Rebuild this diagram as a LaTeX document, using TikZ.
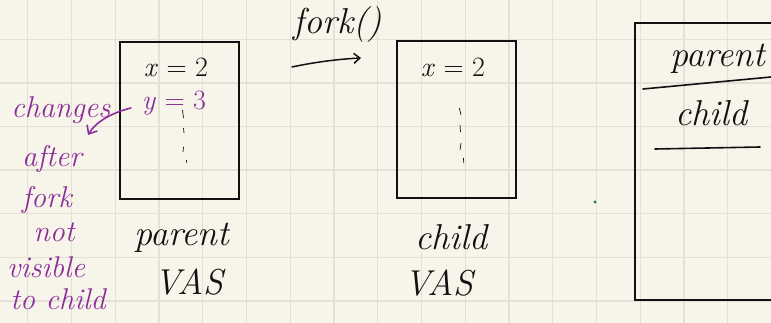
\documentclass[tikz,border=0pt]{standalone}
\usetikzlibrary{arrows.meta}
\definecolor{paper}{HTML}{F7F5EA}
\definecolor{gridc}{HTML}{E3E1D6}
\definecolor{ink}{HTML}{111111}
\definecolor{pen}{HTML}{8C2E9B}
\definecolor{dotc}{HTML}{0B7A5E}
\tikzset{
  box/.style={draw=ink, line width=2pt, rectangle, inner sep=0pt},
  hand/.style={text=ink, font=\fontsize{36}{36}\selectfont\itshape, inner sep=0pt},
  note/.style={text=pen, font=\fontsize{30}{30}\selectfont\itshape, inner sep=0pt},
  val/.style={text=ink, font=\fontsize{28}{28}\selectfont, inner sep=0pt},
  tick/.style={draw=ink, line width=0.7pt},
  uline/.style={draw=ink, line width=1.6pt, line cap=round},
}
\begin{document}
\begin{tikzpicture}[x=1pt,y=-1pt]
\useasboundingbox (0,0) rectangle (771,323);
\clip (0,0) rectangle (771,323);
\fill[paper] (0,0) rectangle (771,323);
% grid
\foreach \i in {0,...,17} {
  \draw[gridc, line width=1.3pt] ({27.7+43.75*\i},0) -- ({27.7+43.75*\i},323);
}
\foreach \j in {0,...,6} {
  \draw[gridc, line width=1.3pt] (0,{39.3+43.6*\j}) -- (771,{39.3+43.6*\j});
}
% boxes
\node[box, minimum width=119pt, minimum height=157pt] (pbox) at (179.7,120.5) {};
\node[box, minimum width=119pt, minimum height=157pt] (cbox) at (456.3,119.5) {};
\node[box, minimum width=150pt, minimum height=277pt] (tbox) at (710,161.5) {};
% parent box content
\node[val] (px) at (176,67) {\textit{x} = 2};
\node[val, text=pen] (py) at (174,103) {\textit{y} = 3};
\draw[tick] (182.5,110) -- (183.5,118);
\draw[tick] (183.5,128) -- (184,133);
\draw[tick] (183.5,147) -- (183,152);
\draw[tick] (186.5,160) -- (186.7,163);
% child box content
\node[val] (cx) at (453,67) {\textit{x} = 2};
\draw[tick] (459.3,108) -- (461,115);
\draw[tick] (460,125) -- (460.5,132);
\draw[tick] (461,143) -- (460,150);
\draw[tick] (463.5,158) -- (463.7,163);
% fork arrow
\node[hand] (fork) at (338,25) {fork()};
\coordinate (fa) at (292,67);
\coordinate (fb) at (361,58);
\draw[ink, line width=1.5pt, line cap=round, -{Straight Barb[length=6pt,width=10pt]}] (fa) .. controls (315,62) and (340,59) .. (fb);
% labels under boxes
\node[hand] (plab) at (182,238) {parent};
\node[hand] (pvas) at (189,282) {VAS};
\node[hand] (clab) at (451,237) {child};
\node[hand] (cvas) at (439,283) {VAS};
% purple note
\node[note] (n1) at (61,110) {changes};
\node[note] (n2) at (52,159) {after};
\node[note] (n3) at (47,200) {fork};
\node[note] (n4) at (54,232) {not};
\node[note] (n5) at (46,267) {visible};
\node[note] (n6) at (58,299) {to child};
\coordinate (pa) at (131,108);
\coordinate (pb) at (88,135);
\draw[pen, line width=1.6pt, line cap=round, -{Straight Barb[length=7pt,width=12pt]}] (pa) .. controls (115,112) and (97,120) .. (pb);
% right box content
\node[hand] (tp) at (718,59) {parent};
\coordinate (u1a) at (643,89);
\coordinate (u1b) at (771,77);
\draw[uline] (u1a) -- (u1b);
\node[hand] (tc) at (711,113) {child};
\coordinate (u2a) at (655,149);
\coordinate (u2b) at (760,147);
\draw[uline] (u2a) -- (u2b);
% green dot
\fill[dotc] (595,202) circle (1.6pt);
\end{tikzpicture}
\end{document}
